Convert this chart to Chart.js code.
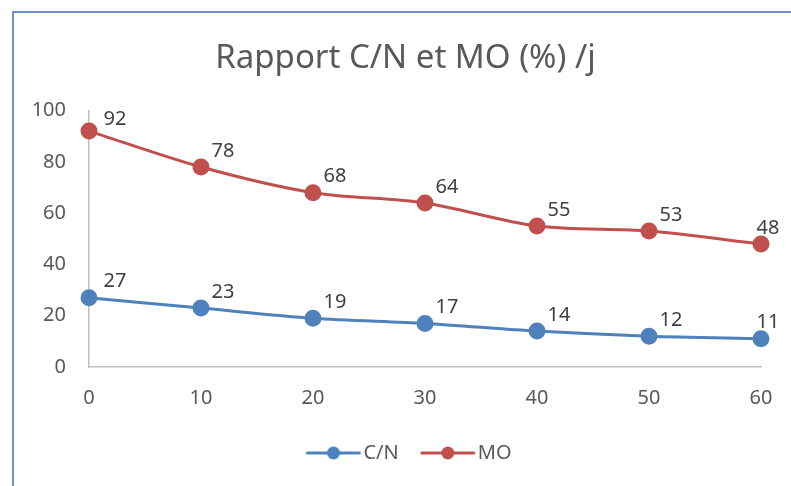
<!DOCTYPE html>
<html>
<head>
<meta charset="utf-8">
<script src="https://cdn.jsdelivr.net/npm/chart.js@4.4.0/dist/chart.umd.min.js"></script>
<style>
  html, body { margin: 0; padding: 0; background: #fff; overflow: hidden; }
  #wrap { position: relative; width: 791px; height: 486px; overflow: hidden; }
  #frame { position: absolute; left: 12px; top: 11px; width: 800px; height: 500px;
           border-left: 2px solid #6a96cc; border-top: 2px solid #6a96cc; }
  canvas { position: absolute; left: 0; top: 0; }
</style>
</head>
<body>
<div id="wrap">
  <div id="frame"></div>
  <canvas id="chart" width="815" height="486"></canvas>
</div>
<script>
const days = ['0', '10', '20', '30', '40', '50', '60'];
const cnValues = [27, 23, 19, 17, 14, 12, 11];
const moValues = [92, 78, 68, 64, 55, 53, 48];
const yTicks = [0, 20, 40, 60, 80, 100];

const blue = '#4f81bd';
const red = '#c0504d';
const textGray = '#595959';
const font = '"Noto Sans", sans-serif';

// legend marker: a short line with a dot in the middle
function legendMarker(color) {
  const c = document.createElement('canvas');
  c.width = 56; c.height = 16;
  const g = c.getContext('2d');
  g.strokeStyle = color;
  g.lineWidth = 3;
  g.lineCap = 'round';
  g.beginPath(); g.moveTo(2, 8); g.lineTo(54, 8); g.stroke();
  g.fillStyle = color;
  g.beginPath(); g.arc(28, 8, 6.5, 0, Math.PI * 2); g.fill();
  return c;
}
const markers = [legendMarker(blue), legendMarker(red)];

// value labels next to each point
const valueLabels = {
  id: 'valueLabels',
  afterDatasetsDraw(chart) {
    const ctx = chart.ctx;
    ctx.save();
    ctx.font = '20px ' + font;
    ctx.fillStyle = '#404040';
    ctx.textAlign = 'center';
    ctx.textBaseline = 'middle';
    chart.data.datasets.forEach((ds, i) => {
      const meta = chart.getDatasetMeta(i);
      meta.data.forEach((pt, j) => {
        const last = j === meta.data.length - 1;
        const dx = last ? 7 : (j === 0 ? 26 : 22);
        const dy = j === 0 && ds.data[j] > 90 ? -12 : -16;
        ctx.fillText(String(ds.data[j]), pt.x + dx, pt.y + dy);
      });
    });
    ctx.restore();
  }
};

// title and legend sit a bit right of the plot centre in the picture
const boxShift = {
  id: 'boxShift',
  afterLayout(chart) {
    chart.titleBlock.left += 25;
    chart.titleBlock.right += 25;
    chart.legend.left += 32;
    chart.legend.right += 32;
  }
};

const ctx = document.getElementById('chart').getContext('2d');
new Chart(ctx, {
  type: 'line',
  data: {
    labels: days,
    datasets: [
      {
        label: 'C/N',
        data: cnValues,
        borderColor: blue,
        backgroundColor: blue,
        borderWidth: 3,
        pointRadius: 7,
        pointStyle: 'circle',
        pointBackgroundColor: blue,
        pointBorderColor: blue,
        tension: 0.3
      },
      {
        label: 'MO',
        data: moValues,
        borderColor: red,
        backgroundColor: red,
        borderWidth: 3,
        pointRadius: 7,
        pointStyle: 'circle',
        pointBackgroundColor: red,
        pointBorderColor: red,
        tension: 0.3
      }
    ]
  },
  options: {
    responsive: false,
    animation: false,
    layout: { padding: { left: 0, right: 54, top: 0, bottom: 13 } },
    plugins: {
      tooltip: { enabled: false },
      title: {
        display: true,
        text: 'Rapport C/N et MO (%) /j',
        color: textGray,
        font: { family: font, size: 33, weight: 'normal' },
        padding: { top: 39, bottom: 32 }
      },
      legend: {
        position: 'bottom',
        labels: {
          color: textGray,
          font: { family: font, size: 20 },
          usePointStyle: true,
          pointStyleWidth: 40,
          padding: 29,
          generateLabels(chart) {
            return chart.data.datasets.map((ds, i) => ({
              text: ds.label,
              fontColor: textGray,
              pointStyle: markers[i],
              fillStyle: ds.borderColor,
              strokeStyle: ds.borderColor,
              lineWidth: 0,
              datasetIndex: i,
              hidden: false
            }));
          }
        }
      }
    },
    scales: {
      x: {
        offset: false,
        grid: { display: false, drawTicks: false },
        border: { display: true, color: '#bfbfbf', width: 1.5 },
        ticks: {
          color: textGray,
          font: { family: font, size: 20 },
          padding: 19,
          maxRotation: 0
        },
        afterFit(scale) { scale.height = 47; }
      },
      y: {
        min: 0,
        max: 100,
        grid: { display: false, drawTicks: false },
        border: { display: true, color: '#bfbfbf', width: 1.5 },
        afterBuildTicks(scale) { scale.ticks = yTicks.map(v => ({ value: v })); },
        ticks: {
          color: textGray,
          font: { family: font, size: 20 },
          padding: 23
        },
        afterFit(scale) { scale.width = 89; }
      }
    }
  },
  plugins: [valueLabels, boxShift]
});
</script>
</body>
</html>
